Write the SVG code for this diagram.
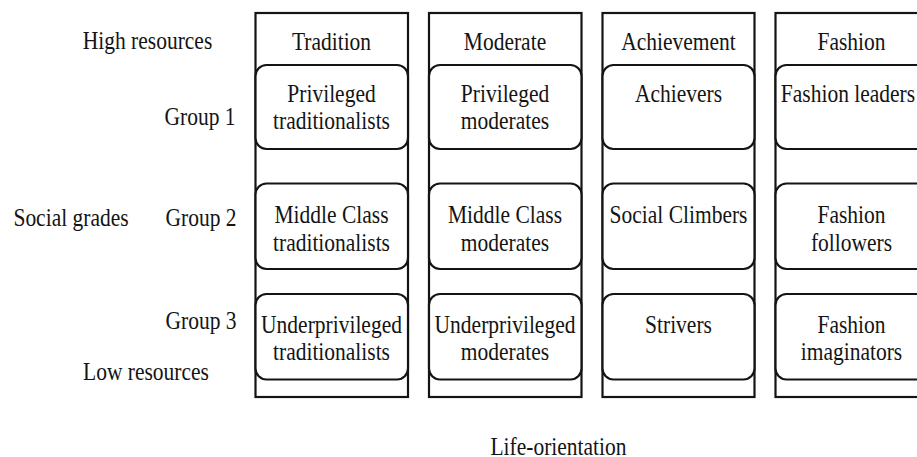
<svg xmlns="http://www.w3.org/2000/svg" width="917" height="457" viewBox="0 0 917 457">
<style>
.col{fill:none;stroke:#141414;stroke-width:2.2}
.box{fill:#fff;stroke:#141414;stroke-width:2.2}
text{font-family:"Liberation Serif","Times New Roman",serif;font-size:21.5px;fill:#141414;text-anchor:middle}
</style>
<rect width="917" height="457" fill="#fff"/>
<g id="axis-labels">
<text transform="translate(147.5 49) scale(1 1.2)">High resources</text>
<text transform="translate(200 125) scale(1 1.2)">Group 1</text>
<text transform="translate(71 226) scale(1 1.2)">Social grades</text>
<text transform="translate(201 226) scale(1 1.2)">Group 2</text>
<text transform="translate(201 329) scale(1 1.2)">Group 3</text>
<text transform="translate(146 380) scale(1 1.2)">Low resources</text>
<text transform="translate(558.5 455) scale(1 1.2)">Life-orientation</text>
</g>
<g id="col-tradition">
<rect class="col" x="255.5" y="13" width="152.5" height="384"/>
<text transform="translate(331.5 50) scale(1 1.2)">Tradition</text>
<g id="privileged-traditionalists"><rect class="box" x="255.5" y="65" width="152.5" height="84" rx="11"/>
<text transform="translate(331.5 101.5) scale(1 1.2)">Privileged</text><text transform="translate(331.5 128.5) scale(1 1.2)">traditionalists</text></g>
<g id="middle-class-traditionalists"><rect class="box" x="255.5" y="183.5" width="152.5" height="85.5" rx="11"/>
<text transform="translate(331.5 223) scale(1 1.2)">Middle Class</text><text transform="translate(331.5 250.5) scale(1 1.2)">traditionalists</text></g>
<g id="underprivileged-traditionalists"><rect class="box" x="255.5" y="294" width="152.5" height="85.5" rx="11"/>
<text transform="translate(331.5 333) scale(1 1.2)">Underprivileged</text><text transform="translate(331.5 360) scale(1 1.2)">traditionalists</text></g>
</g>
<g id="col-moderate">
<rect class="col" x="429" y="13" width="152.5" height="384"/>
<text transform="translate(505 50) scale(1 1.2)">Moderate</text>
<g id="privileged-moderates"><rect class="box" x="429" y="65" width="152.5" height="84" rx="11"/>
<text transform="translate(505 101.5) scale(1 1.2)">Privileged</text><text transform="translate(505 128.5) scale(1 1.2)">moderates</text></g>
<g id="middle-class-moderates"><rect class="box" x="429" y="183.5" width="152.5" height="85.5" rx="11"/>
<text transform="translate(505 223) scale(1 1.2)">Middle Class</text><text transform="translate(505 250.5) scale(1 1.2)">moderates</text></g>
<g id="underprivileged-moderates"><rect class="box" x="429" y="294" width="152.5" height="85.5" rx="11"/>
<text transform="translate(505 333) scale(1 1.2)">Underprivileged</text><text transform="translate(505 360) scale(1 1.2)">moderates</text></g>
</g>
<g id="col-achievement">
<rect class="col" x="602.5" y="13" width="152" height="384"/>
<text transform="translate(678.5 50) scale(1 1.2)">Achievement</text>
<g id="achievers"><rect class="box" x="602.5" y="65" width="152" height="84" rx="11"/>
<text transform="translate(678.5 101.5) scale(1 1.2)">Achievers</text></g>
<g id="social-climbers"><rect class="box" x="602.5" y="183.5" width="152" height="85.5" rx="11"/>
<text transform="translate(678.5 223) scale(1 1.2)">Social Climbers</text></g>
<g id="strivers"><rect class="box" x="602.5" y="294" width="152" height="85.5" rx="11"/>
<text transform="translate(678.5 333) scale(1 1.2)">Strivers</text></g>
</g>
<g id="col-fashion">
<rect class="col" x="775.5" y="13" width="152.5" height="384"/>
<text transform="translate(851.5 50) scale(1 1.2)">Fashion</text>
<g id="fashion-leaders"><rect class="box" x="775.5" y="65" width="152.5" height="84" rx="11"/>
<text transform="translate(848 101.5) scale(1 1.2)">Fashion leaders</text></g>
<g id="fashion-followers"><rect class="box" x="775.5" y="183.5" width="152.5" height="85.5" rx="11"/>
<text transform="translate(851.5 223) scale(1 1.2)">Fashion</text><text transform="translate(851.5 250.5) scale(1 1.2)">followers</text></g>
<g id="fashion-imaginators"><rect class="box" x="775.5" y="294" width="152.5" height="85.5" rx="11"/>
<text transform="translate(851.5 333) scale(1 1.2)">Fashion</text><text transform="translate(851.5 360) scale(1 1.2)">imaginators</text></g>
</g>
<g id="connectors"/>
</svg>
